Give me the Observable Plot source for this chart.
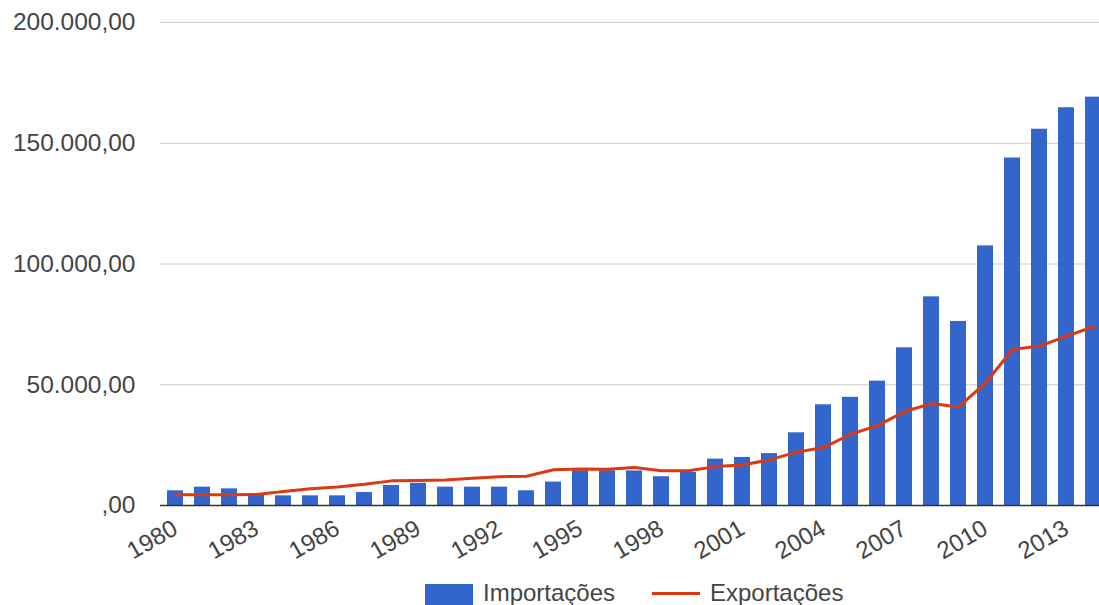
<!DOCTYPE html>
<html>
<head>
<meta charset="utf-8">
<script src="https://cdn.jsdelivr.net/npm/d3@7"></script>
<script src="https://cdn.jsdelivr.net/npm/@observablehq/plot@0.6"></script>
<style>
  html, body { margin: 0; padding: 0; background: #fff; overflow: hidden; }
  #wrap { position: relative; width: 1099px; height: 605px; overflow: hidden;
          font-family: "Liberation Sans", Arial, sans-serif; }
  #legend { position: relative; height: 40px; font-size: 24px; color: #444; }
  #legend .sw-bar { position: absolute; left: 425px; top: 19px; width: 48px; height: 21px; }
  #legend .sw-line { position: absolute; left: 652px; top: 27px; width: 48px; height: 3px; }
  #legend .lab { position: absolute; top: 14px; line-height: 28px; white-space: nowrap; }
</style>
</head>
<body>
<div id="wrap">
  <div id="chart"></div>
  <div id="legend"></div>
</div>
<script>
// Annual values, 1980–2014
const years = [1980, 1981, 1982, 1983, 1984, 1985, 1986, 1987, 1988, 1989,
               1990, 1991, 1992, 1993, 1994, 1995, 1996, 1997, 1998, 1999,
               2000, 2001, 2002, 2003, 2004, 2005, 2006, 2007, 2008, 2009,
               2010, 2011, 2012, 2013, 2014];

const importacoes = [6100, 7600, 6900, 4500, 4000, 4000, 4000, 5400, 8300, 9200,
                     7600, 7600, 7600, 6100, 9700, 14400, 14400, 14300, 11900, 13700,
                     19200, 19900, 21500, 30100, 41700, 44800, 51500, 65300, 86400, 76200,
                     107500, 143900, 155800, 164700, 169100];

const exportacoes = [4400, 4400, 4400, 4600, 5800, 6900, 7700, 8800, 10200, 10400,
                     10600, 11300, 11900, 12100, 14800, 15100, 15000, 15700, 14400, 14400,
                     16100, 16800, 18900, 22100, 24000, 29500, 33100, 38900, 42200, 40800,
                     50700, 64600, 66000, 70100, 74000];

const seriesNames = ["Importações", "Exportações"];
const seriesColors = ["#3366cc", "#dc3912"];

const yTicks = [0, 50000, 100000, 150000, 200000];
const xTickYears = [1980, 1983, 1986, 1989, 1992, 1995, 1998, 2001, 2004, 2007, 2010, 2013];

const rows = years.map((year, i) => ({year, imp: importacoes[i], exp: exportacoes[i]}));

// Brazilian number format: 200.000,00
const ptBR = d3.formatLocale({decimal: ",", thousands: ".", grouping: [3], currency: ["R$ ", ""]});
const fmt2 = ptBR.format(",.2f");
const fmtY = v => v === 0 ? ",00" : fmt2(v);

const textColor = "#444";

const chart = Plot.plot({
  width: 1099,
  height: 565,
  marginLeft: 160,
  marginRight: 0,
  marginTop: 22,
  marginBottom: 60,
  style: {fontFamily: "'Liberation Sans', Arial, sans-serif", fontSize: "24px", color: textColor, background: "#fff", overflow: "visible"},
  x: {type: "band", domain: years, range: [160.5, 1106.6], paddingInner: 0.41, paddingOuter: 0.205, align: 0.5},
  y: {domain: [0, 200000]},
  marks: [
    Plot.ruleY(yTicks.slice(1), {stroke: "#cccccc", strokeWidth: 1}),
    Plot.barY(rows, {x: "year", y: "imp", fill: seriesColors[0]}),
    Plot.ruleY([0], {stroke: "#333333", strokeWidth: 1.5}),
    Plot.lineY(rows, {x: "year", y: "exp", stroke: seriesColors[1], strokeWidth: 3}),
    Plot.axisY({ticks: yTicks, tickFormat: fmtY, tickSize: 0, tickPadding: 25, label: null, fill: textColor, fontSize: 24.5}),
    Plot.axisX({ticks: xTickYears, tickFormat: d => `${d}`, tickSize: 0, tickPadding: 21, tickRotate: -30, label: null, fill: textColor})
  ]
});
document.getElementById("chart").appendChild(chart);

// Legend below the chart
const legend = document.getElementById("legend");
legend.innerHTML = `
  <span class="sw-bar" style="background:${seriesColors[0]}"></span>
  <span class="lab" style="left:483px">${seriesNames[0]}</span>
  <span class="sw-line" style="background:${seriesColors[1]}"></span>
  <span class="lab" style="left:710px">${seriesNames[1]}</span>`;
</script>
</body>
</html>
